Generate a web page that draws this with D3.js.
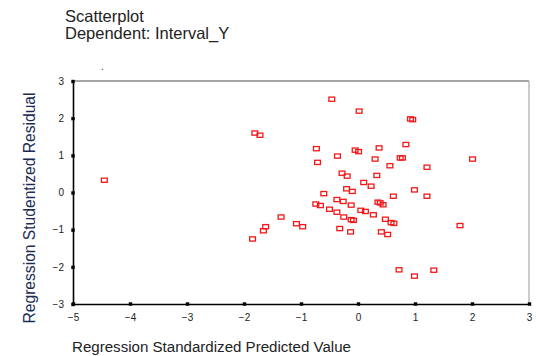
<!DOCTYPE html>
<html>
<head>
<meta charset="utf-8">
<script src="https://cdn.jsdelivr.net/npm/d3@7"></script>
<style>
  body { margin: 0; background: #fff; }
  svg { display: block; font-family: "Liberation Sans", Arial, sans-serif; }
</style>
</head>
<body>
<svg></svg>
<script>
const w = 536;
const h = 356;

// data
const predicted = [-4.45, -1.81, -1.72, -1.85, -1.66, -1.62, -1.35, -1.08, -0.97, -0.73,
  -0.71, -0.46, -0.36, -0.60, -0.74, -0.66, -0.50, -0.37, -0.37, -0.26,
  -0.28, -0.19, -0.20, -0.10, -0.12, -0.25, -0.12, -0.08, -0.32, -0.13,
  -0.05, 0.01, 0.02, 0.05, 0.13, 0.27, 0.10, 0.23, 0.33, 0.30,
  0.37, 0.35, 0.39, 0.44, 0.48, 0.58, 0.63, 0.41, 0.52, 0.56,
  0.62, 0.74, 0.78, 0.84, 0.92, 0.96, 0.99, 1.21, 1.21, 1.79,
  2.01, 0.72, 0.99, 1.33];
const residual = [0.33, 1.60, 1.54, -1.25, -1.03, -0.92, -0.66, -0.84, -0.92, 1.18,
  0.81, 2.51, 0.98, -0.03, -0.31, -0.35, -0.45, -0.53, -0.19, -0.24,
  0.52, 0.44, 0.10, 0.03, -0.34, -0.66, -0.73, -0.75, -0.97, -1.06,
  1.14, 1.10, 2.19, -0.48, -0.51, -0.60, 0.27, 0.17, 0.46, 0.90,
  1.20, -0.26, -0.28, -0.33, -0.72, -0.81, -0.83, -1.06, -1.13, 0.72,
  -0.10, 0.93, 0.93, 1.29, 1.98, 1.96, 0.07, 0.68, -0.10, -0.89,
  0.90, -2.08, -2.25, -2.09];
const xTicks = [-5, -4, -3, -2, -1, 0, 1, 2, 3];
const yTicks = [-3, -2, -1, 0, 1, 2, 3];

const data = predicted.map((d, i) => [d, residual[i]]);

const pLeft = 73, pRight = 529, pTop = 81, pBottom = 304;

const svg = d3.select('svg')
    .attr('width', w)
    .attr('height', h);

// titles
svg.append('text')
    .attr('x', 65).attr('y', 22)
    .attr('font-size', 16.5)
    .attr('fill', '#222')
    .text('Scatterplot');
svg.append('text')
    .attr('x', 65).attr('y', 39)
    .attr('font-size', 16.5)
    .attr('fill', '#222')
    .text('Dependent: Interval_Y');

// stray dot
svg.append('text')
    .attr('x', 101).attr('y', 70)
    .attr('font-size', 10)
    .attr('fill', '#333')
    .text('.');

// scales
const x = d3.scaleLinear().domain([-5, 3]).range([pLeft, pRight]);
const y = d3.scaleLinear().domain([-3, 3]).range([pBottom, pTop]);

// frame: top and right in grey
svg.append('line')
    .attr('x1', pLeft).attr('x2', pRight).attr('y1', pTop).attr('y2', pTop)
    .attr('stroke', '#888').attr('stroke-width', 1.5);
svg.append('line')
    .attr('x1', pRight).attr('x2', pRight).attr('y1', pTop).attr('y2', pBottom)
    .attr('stroke', '#aaa').attr('stroke-width', 1.2);

// x-axis
const xAxis = d3.axisBottom(x).tickValues(xTicks).tickFormat(d3.format('d'))
    .tickSize(0).tickPadding(10);
const gx = svg.append('g')
    .attr('transform', 'translate(0,' + pBottom + ')')
    .call(xAxis);
gx.select('.domain').attr('stroke', '#000').attr('stroke-width', 1.6);
gx.selectAll('.tick text')
    .attr('font-size', 10)
    .attr('fill', '#222')
    .attr('font-family', '"Liberation Sans", Arial, sans-serif');
gx.selectAll('.tick').append('rect')
    .attr('x', -1.7).attr('y', -1.7)
    .attr('width', 3.4).attr('height', 3.4)
    .attr('fill', '#000');

// y-axis
const yAxis = d3.axisLeft(y).tickValues(yTicks).tickFormat(d3.format('d'))
    .tickSize(0).tickPadding(9);
const gy = svg.append('g')
    .attr('transform', 'translate(' + pLeft + ',0)')
    .call(yAxis);
gy.select('.domain').attr('stroke', '#000').attr('stroke-width', 1.6);
gy.selectAll('.tick text')
    .attr('font-size', 10)
    .attr('fill', '#222')
    .attr('font-family', '"Liberation Sans", Arial, sans-serif');
gy.selectAll('.tick').append('rect')
    .attr('x', -1.7).attr('y', -1.7)
    .attr('width', 3.4).attr('height', 3.4)
    .attr('fill', '#000');

// axis titles
svg.append('text')
    .attr('transform', 'translate(35,' + 208 + ') rotate(-90)')
    .attr('text-anchor', 'middle')
    .attr('font-size', 16)
    .attr('fill', '#1a2b55')
    .attr('textLength', 231)
    .attr('lengthAdjust', 'spacingAndGlyphs')
    .text('Regression Studentized Residual');
svg.append('text')
    .attr('x', 72).attr('y', 352)
    .attr('font-size', 14)
    .attr('fill', '#222')
    .attr('textLength', 279)
    .attr('lengthAdjust', 'spacingAndGlyphs')
    .text('Regression Standardized Predicted Value');

// points
svg.selectAll('rect.pt')
    .data(data)
    .enter()
    .append('rect')
    .attr('class', 'pt')
    .attr('x', d => x(d[0]) - 2.9)
    .attr('y', d => y(d[1]) - 2.1)
    .attr('width', 5.8)
    .attr('height', 4.2)
    .attr('fill', 'none')
    .attr('stroke', '#f21818')
    .attr('stroke-width', 1.3);
</script>
</body>
</html>
